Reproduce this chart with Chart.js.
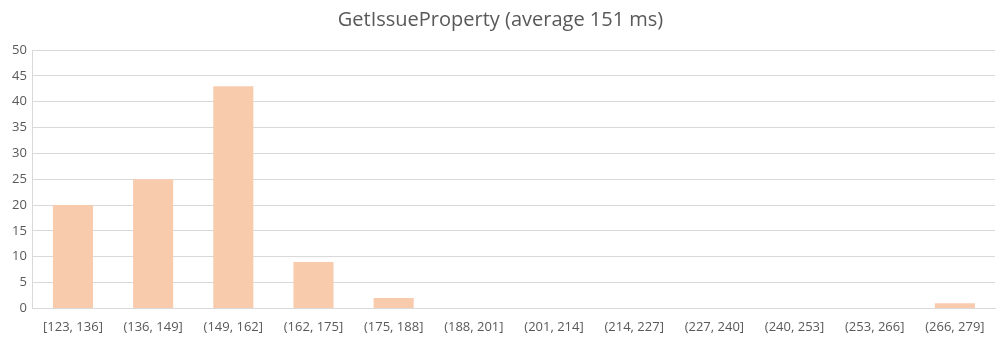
<!DOCTYPE html>
<html>
<head>
<meta charset="utf-8">
<script src="https://cdn.jsdelivr.net/npm/chart.js@4"></script>
<style>
  html, body { margin: 0; padding: 0; background: #ffffff; }
  #wrap { width: 999px; height: 346px; }
</style>
</head>
<body>
<div id="wrap"><canvas id="histChart"></canvas></div>
<script>
const categories = ['[123, 136]', '(136, 149]', '(149, 162]', '(162, 175]', '(175, 188]', '(188, 201]',
  '(201, 214]', '(214, 227]', '(227, 240]', '(240, 253]', '(253, 266]', '(266, 279]'];
const counts = [20, 25, 43, 9, 2, 0, 0, 0, 0, 0, 0, 1];
const yTicks = [0, 5, 10, 15, 20, 25, 30, 35, 40, 45, 50];

const fontFamily = '"Open Sans", sans-serif';

const ctx = document.getElementById('histChart').getContext('2d');
new Chart(ctx, {
  type: 'bar',
  data: {
    labels: categories,
    datasets: [{
      data: counts,
      backgroundColor: '#f8cbad',
      barPercentage: 0.5,
      categoryPercentage: 1.0
    }]
  },
  options: {
    responsive: true,
    maintainAspectRatio: false,
    animation: false,
    layout: { padding: { left: 6, right: 4, top: 4, bottom: 0 } },
    plugins: {
      legend: { display: false },
      tooltip: { enabled: false },
      title: {
        display: true,
        text: 'GetIssueProperty (average 151 ms)',
        color: '#595959',
        font: { family: fontFamily, size: 20, weight: 'normal' },
        padding: { top: 4, bottom: 18 }
      }
    },
    scales: {
      x: {
        grid: { display: false, drawTicks: false },
        border: { color: '#d9d9d9' },
        ticks: { color: '#595959', font: { family: fontFamily, size: 13 }, padding: 11, maxRotation: 0, autoSkip: false }
      },
      y: {
        min: 0,
        max: 50,
        afterBuildTicks: (axis) => { axis.ticks = yTicks.map(v => ({ value: v })); },
        grid: { color: '#d9d9d9', drawTicks: false },
        border: { color: '#d9d9d9' },
        ticks: { color: '#595959', font: { family: fontFamily, size: 13 }, padding: 6 }
      }
    }
  }
});
</script>
</body>
</html>
